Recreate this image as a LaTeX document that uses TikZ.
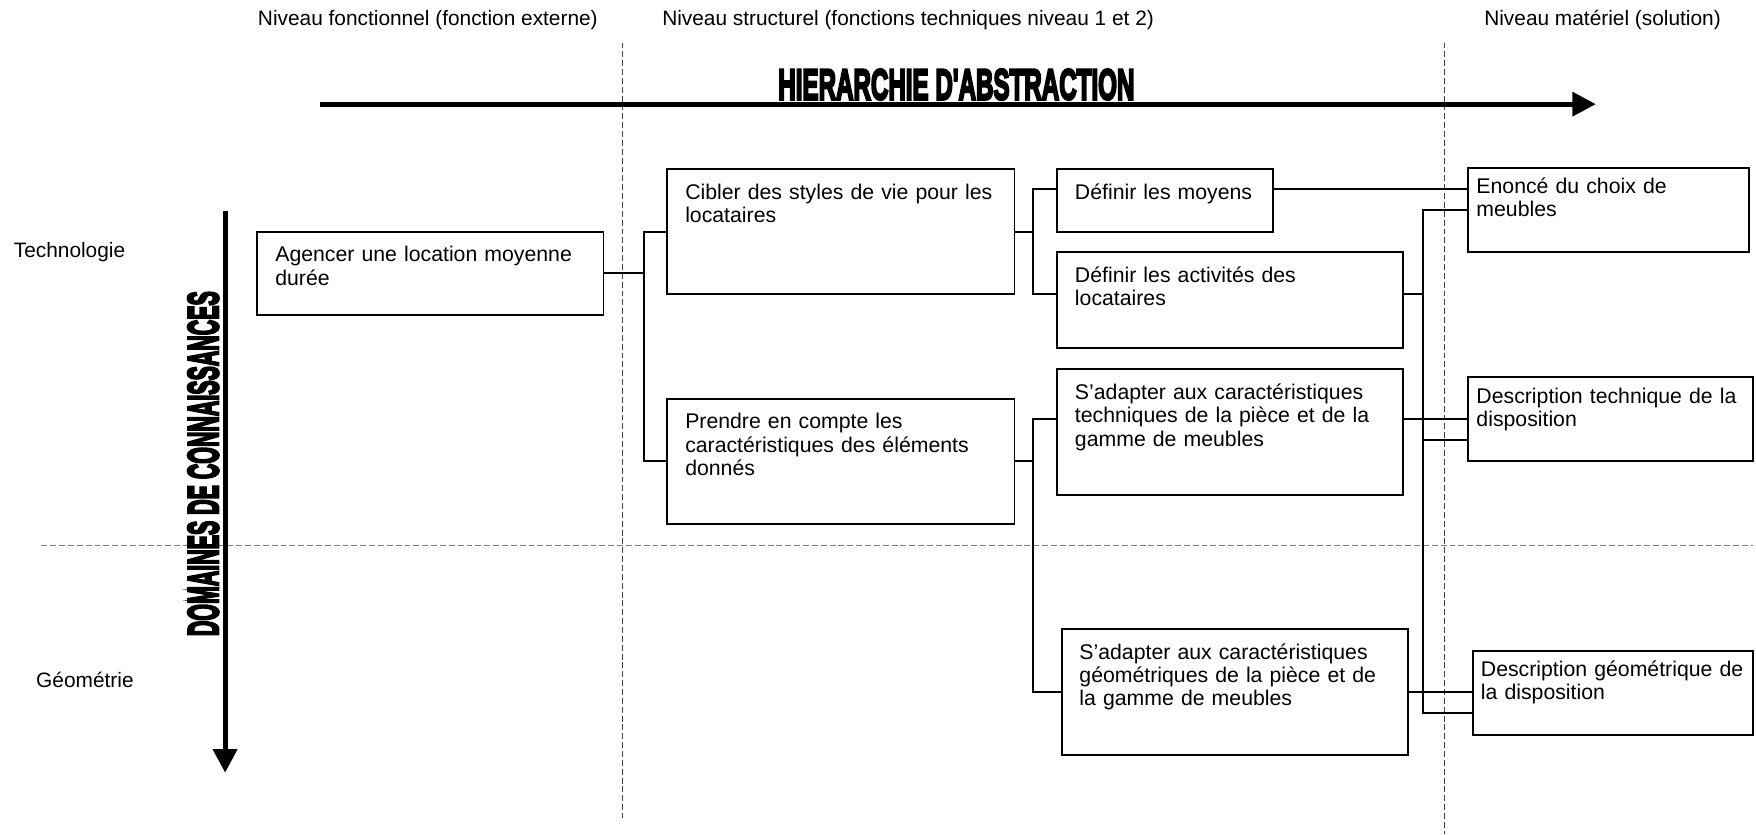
\documentclass[tikz,border=0pt]{standalone}
\usepackage{fontspec}
\setmainfont{Liberation Sans}
\newfontfamily\heavyfont[FakeBold=6]{Liberation Sans}
\usepackage{graphicx}
\usetikzlibrary{arrows.meta,positioning}
\newcommand{\boxfont}{\fontsize{10.8}{11.8}\selectfont}
\newcommand{\lblfont}{\fontsize{10.6}{12}\selectfont}

\begin{document}
\begin{tikzpicture}[>=Stealth,
    box/.style 2 args={draw, line width=1pt, anchor=north west, align=left, font=\boxfont,
        inner xsep=0.32cm, inner ysep=0pt, text width={#1cm-0.64cm},
        text height=0.54cm, text depth={#2cm-0.54cm}},
    sol/.style 2 args={box={#1}{#2}, inner xsep=0.15cm, text width={#1cm-0.3cm},
        text height=0.46cm, text depth={#2cm-0.46cm}},
    link/.style={line width=1pt},
    level/.style={anchor=west, inner sep=0pt, font=\lblfont},
    sep/.style={gray, line width=0.4pt, dash pattern=on 3pt off 1.5pt},
    axis/.style={line width=2.6pt, -{Triangle[length=0.42cm, width=0.42cm]}},
    big/.style={inner sep=0pt, font=\heavyfont\bfseries}]

    \useasboundingbox (0,0) rectangle (31.36,-14.9);

    % separators
    \draw[sep, black!75] (11.12,-0.76) -- (11.12,-14.6);
    \draw[sep, black!75] (25.8,-0.76) -- (25.8,-14.9);
    \draw[sep] (0.74,-9.74) -- (31.3,-9.74);

    % levels and domains
    \node[level] (nf) at (4.6,-0.36) {Niveau fonctionnel (fonction externe)};
    \node[level] (ns) at (11.82,-0.36) {Niveau structurel (fonctions techniques niveau 1 et 2)};
    \node[level] (nm) at (26.5,-0.36) {Niveau matériel (solution)};
    \node[level] (tech) at (0.24,-4.5) {Technologie};
    \node[level] (geo) at (0.64,-12.14) {Géométrie};

    % axes
    \draw[axis] (5.72,-1.86) -- (28.5,-1.86);
    \draw[axis] (4.02,-3.76) -- (4.02,-13.8);
    \node[big] (abs) at (17.08,-1.51) {\resizebox{6.36cm}{0.54cm}{HIERARCHIE D'ABSTRACTION}};
    \node[big, rotate=90] (dom) at (3.63,-8.28) {\resizebox{6.16cm}{0.54cm}{DOMAINES DE CONNAISSANCES}};

    % functions
    \node[box={6.18}{1.48}] (agencer) at (4.58,-4.12) {Agencer une location moyenne\\durée};
    \node[box={6.2}{2.24}] (cibler) at (11.9,-3.0) {Cibler des styles de vie pour les\\locataires};
    \node[box={6.2}{2.24}] (prendre) at (11.9,-7.1) {Prendre en compte les\\caractéristiques des éléments\\donnés};
    \node[box={3.86}{1.12}] (moyens) at (18.86,-3.0) {Définir les moyens};
    \node[box={6.18}{1.72}] (activites) at (18.86,-4.48) {Définir les activités des\\locataires};
    \node[box={6.18}{2.24}] (techn) at (18.86,-6.58) {S’adapter aux caractéristiques\\techniques de la pièce et de la\\gamme de meubles};
    \node[box={6.18}{2.24}] (geom) at (18.94,-11.22) {S’adapter aux caractéristiques\\géométriques de la pièce et de\\la gamme de meubles};

    % solutions
    \node[sol={5.02}{1.5}] (enonce) at (26.2,-2.98) {Enoncé du choix de\\meubles};
    \node[sol={5.08}{1.5}] (desctech) at (26.2,-6.72) {Description technique de la\\disposition};
    \node[sol={5.0}{1.5}] (descgeom) at (26.28,-11.6) {Description géométrique de\\la disposition};

    \coordinate (bus1) at (11.5,0);
    \coordinate (bus2) at (18.44,0);
    \coordinate (bus3) at (25.42,0);

    % agencer -> cibler, prendre
    \draw[link] (agencer.east) -- (agencer.east -| bus1);
    \draw[link] (cibler.west) -- (cibler.west -| bus1) |- (prendre.west);

    % cibler -> moyens, activites
    \draw[link] (cibler.east) -- (cibler.east -| bus2);
    \draw[link] ([yshift=0.2cm]moyens.west) -- ([yshift=0.2cm]moyens.west -| bus2) |- ([yshift=0.1cm]activites.west);

    % prendre -> techn, geom
    \draw[link] (prendre.east) -- (prendre.east -| bus2);
    \draw[link] ([yshift=0.24cm]techn.west) -- ([yshift=0.24cm]techn.west -| bus2) |- (geom.west);

    % moyens -> enonce
    \draw[link] ([yshift=0.2cm]moyens.east) -- ([yshift=0.2cm]moyens.east -| enonce.west);

    % activites -> enonce, desctech, descgeom
    \draw[link] (enonce.west) -- (enonce.west -| bus3) |- ([yshift=-0.37cm]descgeom.west);
    \draw[link] ([yshift=0.1cm]activites.east) -- ([yshift=0.1cm]activites.east -| bus3);
    \draw[link] ([yshift=-0.37cm]desctech.west) -- ([yshift=-0.37cm]desctech.west -| bus3);

    % techn -> desctech, geom -> descgeom
    \draw[link] ([yshift=0.24cm]techn.east) -- ([yshift=0.24cm]techn.east -| desctech.west);
    \draw[link] (geom.east) -- (geom.east -| descgeom.west);
\end{tikzpicture}
\end{document}
